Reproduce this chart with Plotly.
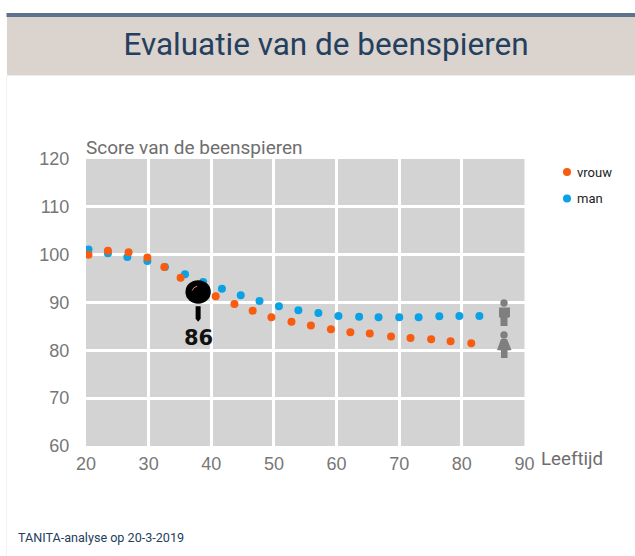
import plotly.graph_objects as go

W, H = 635, 556
TITLE = "Evaluatie van de beenspieren"
Y_LABEL = "Score van de beenspieren"
X_LABEL = "Leeftijd"
FOOTER = "TANITA-analyse op 20-3-2019"
SERIES_NAMES = ["vrouw", "man"]
X_TICKS = [20, 30, 40, 50, 60, 70, 80, 90]
Y_TICKS = [60, 70, 80, 90, 100, 110, 120]

man_age = [20.4, 23.5, 26.6, 29.8, 32.6, 35.8, 38.7, 41.7, 44.7, 47.7, 50.8, 53.9, 57.1, 60.3, 63.6, 66.7, 70.0, 73.1, 76.4, 79.6, 82.8]
man_score = [101.1, 100.3, 99.5, 98.7, 97.4, 95.9, 94.3, 92.9, 91.5, 90.3, 89.2, 88.4, 87.8, 87.2, 87.0, 86.9, 86.9, 86.9, 87.1, 87.2, 87.2]
woman_age = [20.4, 23.5, 26.8, 29.8, 32.5, 35.1, 38.3, 40.7, 43.7, 46.6, 49.6, 52.8, 55.9, 59.1, 62.2, 65.3, 68.7, 71.8, 75.1, 78.2, 81.5]
woman_score = [100.0, 100.8, 100.5, 99.4, 97.4, 95.2, 93.2, 91.3, 89.7, 88.3, 86.9, 86.0, 85.2, 84.4, 83.8, 83.5, 82.9, 82.6, 82.3, 81.9, 81.5]
pin_age = 37.9
pin_score = 86

ORANGE = "#f75c0f"
BLUE = "#0aa2e6"
NAVY = "#24405e"
GREY = "#6e6e6e"
ICON = "#7f7f7f"
PLOT_BG = "#d3d3d3"


def px(x):
    return x / W


def py(y):
    return 1 - y / H


def rect(x0, y0, x1, y1, color):
    return dict(type="rect", xref="paper", yref="paper", x0=px(x0), x1=px(x1), y0=py(y0), y1=py(y1),
                fillcolor=color, line_width=0, layer="below")


def path(points, color):
    d = "M " + " L ".join(f"{px(a):.5f},{py(b):.5f}" for a, b in points) + " Z"
    return dict(type="path", xref="paper", yref="paper", path=d, fillcolor=color, line_width=0)


def circle(cx, cy, rx, ry, color):
    return dict(type="circle", xref="paper", yref="paper", x0=px(cx - rx), x1=px(cx + rx),
                y0=py(cy + ry), y1=py(cy - ry), fillcolor=color, line_width=0)


def text(x, y, s, size, color, anchor="left", family="Roboto", weight=None):
    f = dict(size=size, color=color, family=family)
    if weight:
        f["weight"] = weight
    return dict(x=px(x), y=py(y), xref="paper", yref="paper", text=s, showarrow=False, xanchor=anchor,
                yanchor="middle", font=f)


fig = go.Figure()
fig.add_trace(go.Scatter(x=man_age, y=man_score, mode="markers", name=SERIES_NAMES[1],
                         marker=dict(color=BLUE, size=8)))
fig.add_trace(go.Scatter(x=woman_age, y=woman_score, mode="markers", name=SERIES_NAMES[0],
                         marker=dict(color=ORANGE, size=8)))

shapes = [
    rect(6.5, 13, W, 17, "#5c738b"),
    rect(7, 17, W, 75, "#dbd3cd"),
    rect(7, 75, W, 76, "#eeeeee"),
    rect(6, 76, 7, H, "#f2f2f2"),
    # person icons
    circle(504, 303, 3.7, 3.7, ICON),
    path([(499, 307.5), (510, 307.5), (510, 317), (507.5, 318), (507.5, 326), (500.5, 326), (500.5, 318), (499, 317)], ICON),
    circle(504, 335, 3.7, 3.7, ICON),
    path([(501, 339), (507, 339), (511.5, 350), (507.5, 350.5), (507.5, 358), (501, 358), (501, 350.5), (497, 350)], ICON),
    # legend dots
    circle(567, 172, 4, 4, ORANGE),
    circle(567, 198.5, 4, 4, BLUE),
    # pin anchored to its value; offsets in pixels
    dict(type="path", xref="x", yref="y", xsizemode="pixel", ysizemode="pixel", xanchor=pin_age, yanchor=pin_score,
         path="M -2.5,15.5 L 2.5,15.5 L 2.5,3 L 0,0 L -2.5,3 Z", fillcolor="black", line_width=0),
    dict(type="circle", xref="x", yref="y", xsizemode="pixel", ysizemode="pixel", xanchor=pin_age, yanchor=pin_score,
         x0=-12.7, x1=12.7, y0=18, y1=41.5, fillcolor="black", line_width=0),
    dict(type="path", xref="x", yref="y", xsizemode="pixel", ysizemode="pixel", xanchor=pin_age, yanchor=pin_score,
         path="M -6,31 Q -5,34.5 -1,35.5", line=dict(color="#d9866a", width=1), fillcolor="rgba(0,0,0,0)"),
]

annotations = [
    text(84, 147, Y_LABEL, 19, GREY),
    text(539, 459, X_LABEL, 18.7, GREY),
    text(16, 537.5, FOOTER, 12.6, NAVY),
    text(575, 172, SERIES_NAMES[0], 13, "#222222"),
    text(575, 198.5, SERIES_NAMES[1], 13, "#222222"),
    dict(x=pin_age, y=pin_score, xref="x", yref="y", text=str(pin_score), showarrow=False, yshift=-16,
         font=dict(size=21, color="#111111", family="DejaVu Sans", weight="bold")),
]

fig.update_layout(
    width=W, height=H, autosize=False, margin=dict(l=0, r=0, t=0, b=0, pad=0, autoexpand=False),
    paper_bgcolor="white", plot_bgcolor=PLOT_BG, showlegend=False,
    title=dict(text=TITLE, x=326 / W, y=1 - 44 / H, xanchor="center", yanchor="middle", xref="paper",
               yref="container", font=dict(family="Roboto", size=31.5, color=NAVY)),
    xaxis=dict(domain=[px(86), px(524.5)], range=[20, 90], tickvals=X_TICKS, showgrid=True, gridcolor="white",
               gridwidth=2.5, zeroline=False, ticks="outside", ticklen=1, tickcolor="rgba(0,0,0,0)",
               tickfont=dict(family="Liberation Sans", size=18, color="#777777"), showline=False),
    yaxis=dict(domain=[py(446), py(159)], range=[60, 120], tickvals=Y_TICKS, showgrid=True, gridcolor="white",
               gridwidth=2.5, zeroline=False, ticks="outside", ticklen=12, tickcolor="rgba(0,0,0,0)",
               tickfont=dict(family="Liberation Sans", size=18, color="#777777"), showline=False),
    shapes=shapes, annotations=annotations,
)

fig.write_html("out.html", config={"displayModeBar": False},
               post_script="document.body.style.margin='0';document.body.style.overflow='hidden';")
